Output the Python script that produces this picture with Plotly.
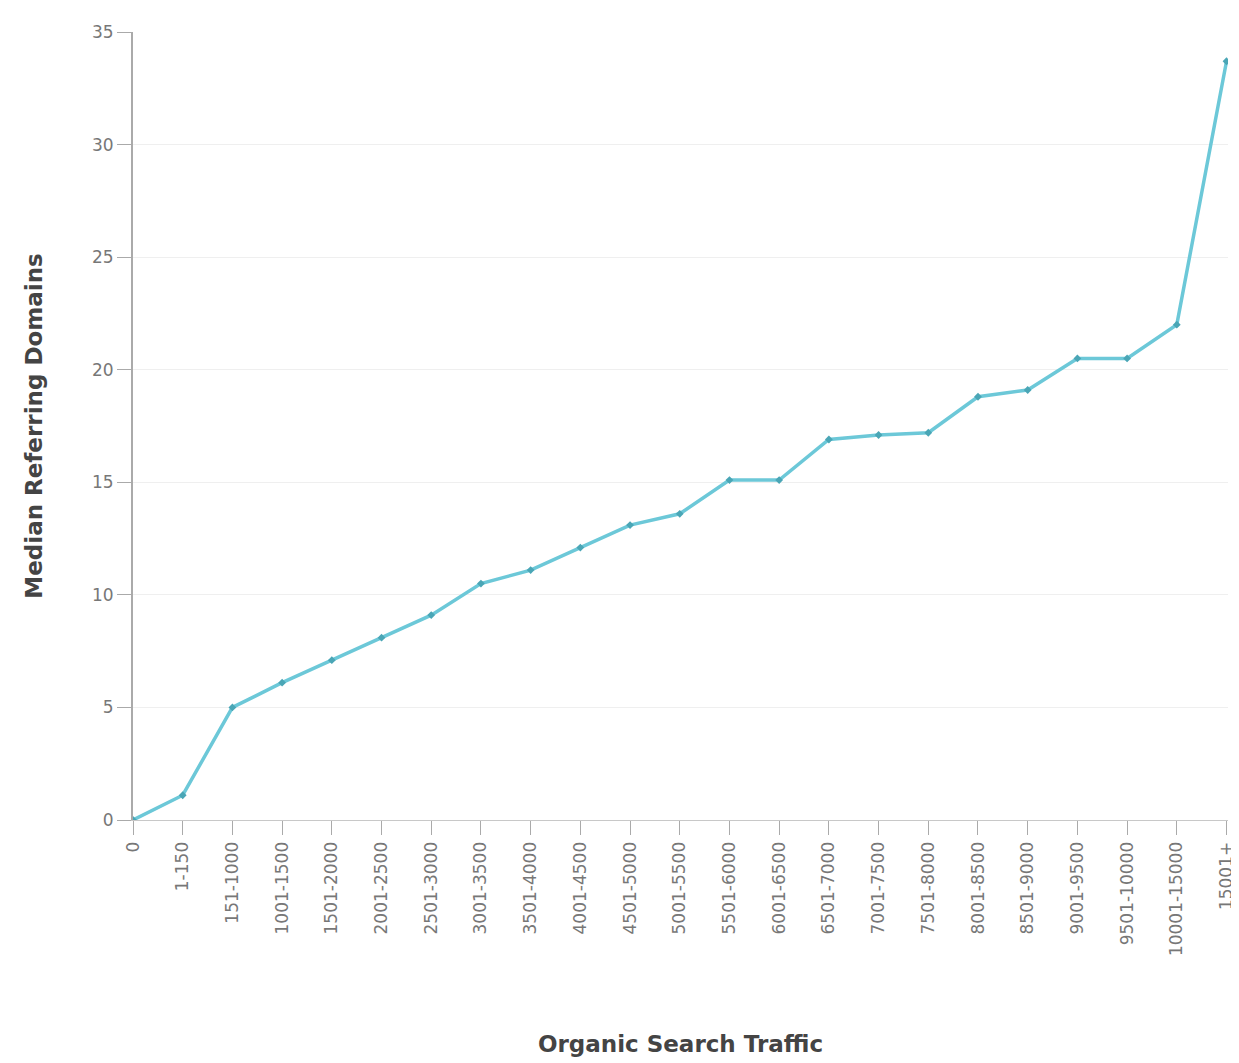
import plotly.graph_objects as go

# traffic buckets and median referring domains
traffic_buckets = [
    "0", "1-150", "151-1000", "1001-1500", "1501-2000", "2001-2500",
    "2501-3000", "3001-3500", "3501-4000", "4001-4500", "4501-5000",
    "5001-5500", "5501-6000", "6001-6500", "6501-7000", "7001-7500",
    "7501-8000", "8001-8500", "8501-9000", "9001-9500", "9501-10000",
    "10001-15000", "15001+",
]
median_domains = [
    0, 1.1, 5.0, 6.1, 7.1, 8.1, 9.1, 10.5, 11.1, 12.1, 13.1, 13.6,
    15.1, 15.1, 16.9, 17.1, 17.2, 18.8, 19.1, 20.5, 20.5, 22.0, 33.7,
]
y_ticks = [0, 5, 10, 15, 20, 25, 30, 35]

fig = go.Figure(
    go.Scatter(
        x=traffic_buckets,
        y=median_domains,
        mode="lines+markers",
        line=dict(color="#6cc8d8", width=3.5),
        marker=dict(color="#4aa6b6", size=6, symbol="diamond"),
    )
)

fig.update_layout(
    width=1231,
    height=1055,
    margin=dict(l=125, r=3, t=24, b=243),
    plot_bgcolor="white",
    paper_bgcolor="white",
    showlegend=False,
    font=dict(family="DejaVu Sans, sans-serif", color="#666"),
)

fig.update_xaxes(
    range=[0, 22.03],
    tickangle=-90,
    tickfont=dict(size=17, color="#777"),
    ticks="outside",
    ticklen=14,
    tickcolor="#aaa",
    showline=True,
    linecolor="#c8c8c8",
    showgrid=False,
    title=dict(text="<b>Organic Search Traffic</b>",
               font=dict(size=23, color="#444"), standoff=80),
)
fig.update_yaxes(
    range=[0, 35],
    tickvals=y_ticks,
    tickfont=dict(size=17, color="#777"),
    ticks="outside",
    ticklen=14,
    tickcolor="#aaa",
    showline=True,
    linecolor="#aaa",
    linewidth=2,
    gridcolor="#efefef",
    zeroline=False,
    title=dict(text="<b>Median Referring Domains</b>",
               font=dict(size=23, color="#444"), standoff=43),
)

fig.write_html("out.html")
